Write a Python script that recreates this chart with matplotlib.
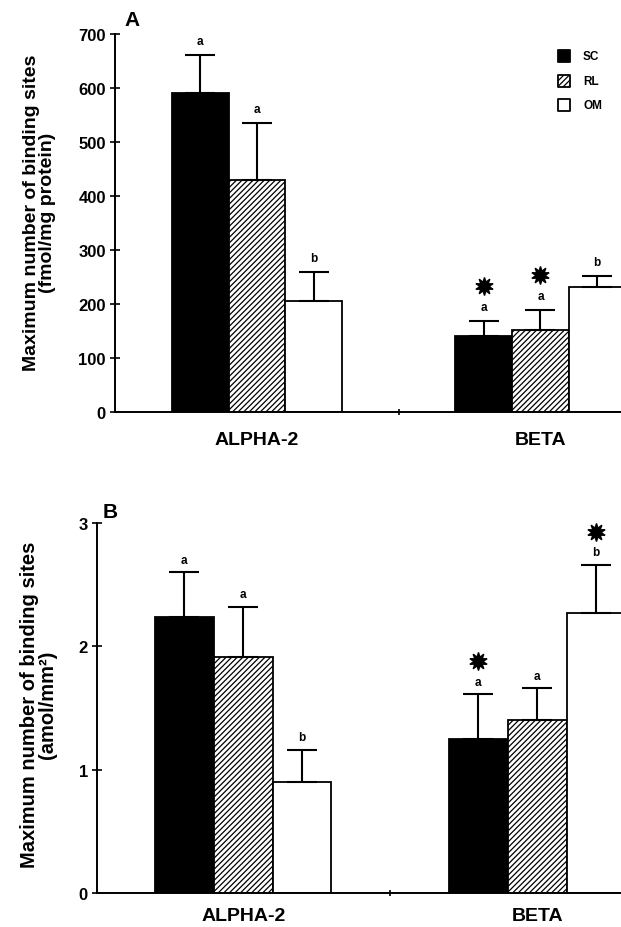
import matplotlib
matplotlib.use("Agg")
import matplotlib.pyplot as plt
import matplotlib.transforms as mtransforms
import numpy as np

plt.rcParams['font.family'] = ['Liberation Sans', 'DejaVu Sans']
plt.rcParams['hatch.linewidth'] = 0.9

groups = ["ALPHA-2", "BETA"]
series = ["SC", "RL", "OM"]

# Panel A (fmol/mg protein)
a_vals = {"SC": [590, 140], "RL": [430, 152], "OM": [205, 232]}
a_err = {"SC": [72, 29], "RL": [105, 37], "OM": [54, 20]}
a_letters = {"SC": ["a", "a"], "RL": ["a", "a"], "OM": ["b", "b"]}
a_stars = {"SC": [False, True], "RL": [False, True], "OM": [False, False]}

# Panel B (amol/mm2)
b_vals = {"SC": [2.24, 1.25], "RL": [1.91, 1.40], "OM": [0.90, 2.27]}
b_err = {"SC": [0.36, 0.36], "RL": [0.41, 0.26], "OM": [0.26, 0.39]}
b_letters = {"SC": ["a", "a"], "RL": ["a", "a"], "OM": ["b", "b"]}
b_stars = {"SC": [False, True], "RL": [False, False], "OM": [False, True]}

styles = {"SC": dict(facecolor="black", hatch=None),
          "RL": dict(facecolor="white", hatch="//////"),
          "OM": dict(facecolor="white", hatch=None)}

W, H = 621, 928
fig = plt.figure(figsize=(W / 100, H / 100), dpi=100)


def panel(rect, vals, errs, letters, stars, ylim, yticks, ylabel, letter,
          lab_off, star_off, cat_off, xlim, letter_pos, ylab_size):
    ax = fig.add_axes(rect)
    x = np.arange(len(groups))
    w = 0.2
    for i, s in enumerate(series):
        xs = x + (i - 1) * w
        st = styles[s]
        ax.bar(xs, vals[s], w, facecolor=st["facecolor"], edgecolor="black",
               hatch=st["hatch"], linewidth=1.3, zorder=2)
        ax.errorbar(xs, vals[s], yerr=[np.zeros(len(groups)), errs[s]],
                    fmt="none", ecolor="black", elinewidth=1.5, capsize=11,
                    capthick=1.5, zorder=3)
        for j in range(len(groups)):
            top = vals[s][j] + errs[s][j]
            ax.annotate(letters[s][j], (xs[j], top), xytext=(0, lab_off),
                        textcoords="offset points", ha="center", va="center",
                        fontsize=8.5, fontweight="bold", annotation_clip=False)
            if stars[s][j]:
                tr = mtransforms.offset_copy(ax.transData, fig=fig,
                                             x=0, y=star_off, units="points")
                ax.plot([xs[j]], [top], marker=(10, 1, 0), markersize=13,
                        color="black", transform=tr, clip_on=False, zorder=4)
    ax.set_xlim(*xlim)
    ax.set_ylim(*ylim)
    ax.set_yticks(yticks)
    ax.set_yticklabels([str(t) for t in yticks], fontsize=12, fontweight="bold")
    ax.set_xticks([0.5])
    ax.set_xticklabels([""])
    ax.tick_params(axis="x", direction="inout", length=4, width=1.2)
    ax.tick_params(axis="y", direction="inout", length=7, width=1.2, pad=3)
    for sp in ["top", "right"]:
        ax.spines[sp].set_visible(False)
    for sp in ["left", "bottom"]:
        ax.spines[sp].set_linewidth(1.4)
    for j, g in enumerate(groups):
        ax.annotate(g, (x[j], 0), xytext=(0, -cat_off), textcoords="offset points",
                    ha="center", va="center", fontsize=14, fontweight="bold",
                    annotation_clip=False)
    ax.set_ylabel(ylabel, fontsize=ylab_size, fontweight="bold", linespacing=0.95)
    ax.text(letter_pos[0], letter_pos[1], letter, transform=ax.transData,
            fontsize=15, fontweight="bold", ha="left", va="center", clip_on=False)
    return ax


# Panel A: axis x=115 px, y from 35 (700) to 413 (0)
axA = panel([115 / W, 1 - 413 / H, (W - 115) / W, (413 - 35) / H],
            a_vals, a_err, a_letters, a_stars, (0, 700), [0, 100, 200, 300, 400, 500, 600, 700],
            "Maximum number of binding sites\n(fmol/mg protein)", "A",
            10, 25, 19.5, (-0.501, 1.284), (-0.466, 727), 14)
axA.yaxis.set_label_coords(-0.116, 0.53)

# legend
legend_y = [659, 613, 568]
for k, s in enumerate(series):
    st = styles[s]
    axA.scatter([1.083], [legend_y[k]], marker="s", s=70, facecolor=st["facecolor"],
                edgecolor="black", linewidth=1.3, hatch=st["hatch"], zorder=5)
    axA.text(1.15, legend_y[k], s, fontsize=8.5, fontweight="bold", ha="left", va="center")

# Panel B: axis x=97 px, y from 524 (3) to 894 (0)
axB = panel([97 / W, 1 - 894 / H, (W - 97) / W, (894 - 524) / H],
            b_vals, b_err, b_letters, b_stars, (0, 3), [0, 1, 2, 3],
            "Maximum number of binding sites\n(amol/mm²)", "B",
            9, 24, 16, (-0.497, 1.285), (-0.479, 3.095), 14.5)
axB.yaxis.set_label_coords(-0.076, 0.51)

fig.savefig("out.png", dpi=100)
